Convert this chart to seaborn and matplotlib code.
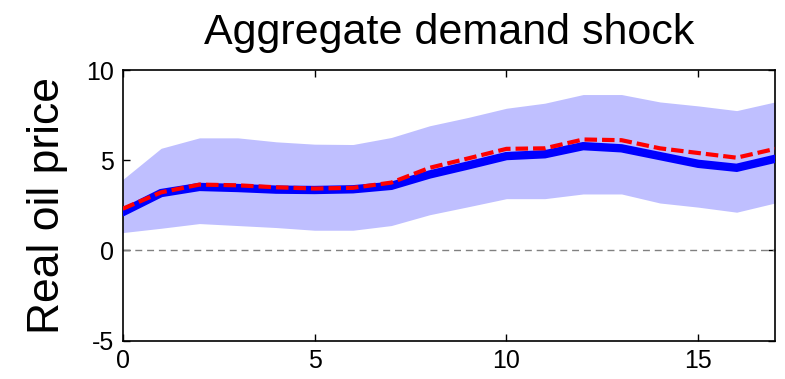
import numpy as np
import pandas as pd
import matplotlib
matplotlib.use("Agg")
import matplotlib.pyplot as plt
import seaborn as sns

# Impulse response of the real oil price to an aggregate demand shock
horizon = list(range(18))
median_response = [2.12, 3.18, 3.52, 3.46, 3.37, 3.35, 3.39, 3.58, 4.21, 4.71,
                   5.23, 5.33, 5.78, 5.66, 5.23, 4.80, 4.58, 5.08]
point_estimate = [2.31, 3.22, 3.65, 3.61, 3.50, 3.43, 3.47, 3.76, 4.58, 5.10,
                  5.63, 5.66, 6.15, 6.11, 5.66, 5.40, 5.14, 5.63]
band_upper = [3.93, 5.66, 6.24, 6.24, 6.02, 5.89, 5.87, 6.26, 6.91, 7.37,
              7.88, 8.16, 8.64, 8.64, 8.23, 8.01, 7.75, 8.23]
band_lower = [0.99, 1.23, 1.49, 1.38, 1.27, 1.12, 1.12, 1.38, 1.98, 2.42,
              2.87, 2.87, 3.13, 3.13, 2.63, 2.40, 2.12, 2.63]
x_ticks = [0, 5, 10, 15]
y_ticks = [-5, 0, 5, 10]

df = pd.DataFrame({"h": horizon, "median": median_response,
                   "point": point_estimate, "lo": band_lower, "hi": band_upper})

sns.set_theme(style="ticks")
plt.rcParams["font.family"] = ["Liberation Sans", "DejaVu Sans"]
plt.rcParams["axes.unicode_minus"] = False
for key in ["text.color", "axes.labelcolor", "xtick.color", "ytick.color"]:
    plt.rcParams[key] = "black"

fig = plt.figure(figsize=(7.85, 3.79), dpi=100)
ax = fig.add_axes([0.1563, 0.1011, 0.8310, 0.7142])

ax.fill_between(df["h"], df["lo"], df["hi"], color="#BFBFFF", linewidth=0, zorder=1)
ax.axhline(0, color="#808080", linewidth=1.0, linestyle=(0, (5, 3.5)), zorder=2)
sns.lineplot(data=df, x="h", y="median", ax=ax, color="#0000FF", linewidth=6,
             solid_joinstyle="miter", zorder=3)
sns.lineplot(data=df, x="h", y="point", ax=ax, color="#FF0000", linewidth=3,
             linestyle=(0, (3, 1.2)), zorder=4)

ax.set_xlim(0, 17)
ax.set_ylim(-5, 10)
ax.set_xticks(x_ticks)
ax.set_yticks(y_ticks)
ax.set_xlabel("")
ax.set_ylabel("Real oil price", fontsize=32, labelpad=13)
ax.set_title("Aggregate demand shock", fontsize=31, pad=19)

for side in ["top", "right", "bottom", "left"]:
    ax.spines[side].set_visible(True)
    ax.spines[side].set_color("black")
    ax.spines[side].set_linewidth(1.2)
ax.tick_params(axis="both", direction="in", length=5, width=1, color="black",
               labelsize=18, top=True, right=True, pad=6)

fig.savefig("out.png", dpi=100)
